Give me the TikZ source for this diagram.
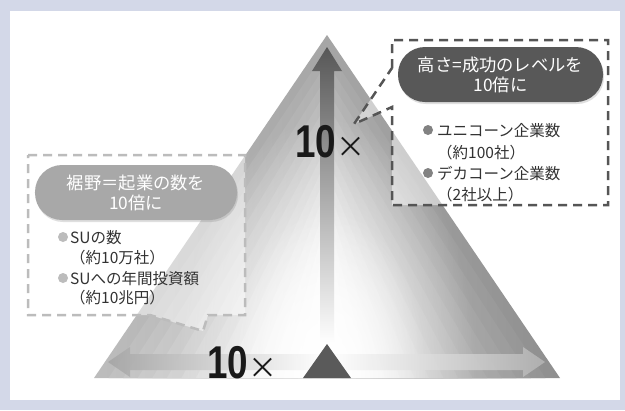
\documentclass[tikz,border=0pt]{standalone}
\usepackage{fontspec}
\setmainfont{Noto Sans CJK JP}
\newfontfamily\tenfnt{Liberation Sans}[FakeStretch=0.8]
\newfontfamily\jp{Noto Sans CJK JP}
\usetikzlibrary{shadows,fadings}
\tikzfading[name=glow, inner color=transparent!0, outer color=transparent!100]
\definecolor{bgblue}{RGB}{211,216,232}
\definecolor{darkpill}{RGB}{88,88,88}
\definecolor{lightpill}{RGB}{168,168,168}
\definecolor{rdash}{RGB}{85,85,85}
\definecolor{ldash}{RGB}{188,188,188}
\definecolor{txt}{RGB}{50,50,50}
\definecolor{rbul}{RGB}{130,130,130}
\definecolor{lbul}{RGB}{188,188,188}
\definecolor{darktri}{RGB}{90,90,90}
\begin{document}
\begin{tikzpicture}[x=1bp,y=-1bp,
  pilltext/.style={text=white, font=\fontsize{17.3bp}{20bp}\selectfont, align=center,
    rounded corners=27bp, minimum height=55bp, inner sep=0,
    drop shadow={opacity=0.25, shadow xshift=1bp, shadow yshift=-2bp}},
  item/.style={anchor=base west, inner sep=0, font=\fontsize{15.5bp}{18bp}\selectfont, text=txt},
  bul/.style={circle, inner sep=0, minimum size=10bp},
  ten/.style={anchor=base west, inner sep=0, font=\tenfnt\bfseries\fontsize{46bp}{46bp}\selectfont, text=black!90},
  rbox/.style={draw=rdash, line width=2.5bp, dash pattern=on 9bp off 6bp, fill=white, fill opacity=0.5},
  lbox/.style={draw=ldash, line width=2.5bp, dash pattern=on 9bp off 6bp, fill=white, fill opacity=0.5}]
\useasboundingbox (0,0) rectangle (625,410);
\fill[bgblue] (0,0) rectangle (625,410);
\fill[white] (10,11) rectangle (620,400);
% pyramid
\foreach \i in {0,...,15} {
  \pgfmathsetmacro\t{\i/16}
  \pgfmathsetmacro\s{1-\t}
  \pgfmathsetmacro\kl{26*(1-\t)^1.1}
  \pgfmathsetmacro\kr{44*(1-\t)^0.8}
  \shade[left color=black!\kl, right color=black!\kr]
    ({327-233*\s},378) -- (327,{35+220*\t}) -- ({327+233*\s},378) -- cycle;
}
\begin{scope}
  \clip (94,378) -- (327,35) -- (560,378) -- cycle;
  \fill[white, path fading=glow] (327,378) ellipse (150 and 260);
  \fill[white, path fading=glow] (327,378) ellipse (100 and 170);
\end{scope}
% vertical arrow
\shade[top color=black!66, bottom color=white]
  (320,344) -- (320,71) -- (312,71) -- (327,47) -- (342,71) -- (334,71) -- (334,344) -- cycle;
% horizontal arrow
\shade[left color=black!35, right color=black!30, middle color=white, opacity=0.9]
  (108,362) -- (130,347) -- (130,354) -- (523,354) -- (523,347) -- (545,362)
  -- (523,377) -- (523,370) -- (130,370) -- (130,377) -- cycle;
\fill[darktri] (303,378) -- (327,344) -- (351,378) -- cycle;
% boxes
\draw[rbox] (392,68) -- (392,40) -- (608,40) -- (608,205) -- (392,205) -- (392,107) -- (354,124) -- cycle;
\draw[lbox] (28,155) -- (245,155) -- (245,315) -- (208,315) -- (203,331) -- (150,315) -- (28,315) -- cycle;
% pills
\node[pilltext, fill=darkpill, minimum width=205bp] (rpill) at (500.5,74.5) {高さ=成功のレベルを\\10倍に};
\node[pilltext, fill=lightpill, minimum width=202bp] (lpill) at (136,192.5) {裾野＝起業の数を\\10倍に};
% right items
\node[bul, fill=rbul] (rb1) at (428,130) {};
\node[item] (r1a) at (437,136) {ユニコーン企業数};
\node[item] (r1b) at (437,158) {（約100社）};
\node[bul, fill=rbul] (rb2) at (428,173) {};
\node[item] (r2a) at (437,179) {デカコーン企業数};
\node[item] (r2b) at (437,200) {（2社以上）};
% left items
\node[bul, fill=lbul] (lb1) at (63,237) {};
\node[item] (l1a) at (70,243) {SUの数};
\node[item] (l1b) at (70,263) {（約10万社）};
\node[bul, fill=lbul] (lb2) at (63,278) {};
\node[item] (l2a) at (70,284) {SUへの年間投資額};
\node[item] (l2b) at (70,303) {（約10兆円）};
% 10x labels
\node[ten] (tenv) at (295,157) {10{\jp\mdseries\fontsize{29bp}{29bp}\selectfont ×}};
\node[ten] (tenh) at (207,378) {10{\jp\mdseries\fontsize{29bp}{29bp}\selectfont ×}};
\end{tikzpicture}
\end{document}
